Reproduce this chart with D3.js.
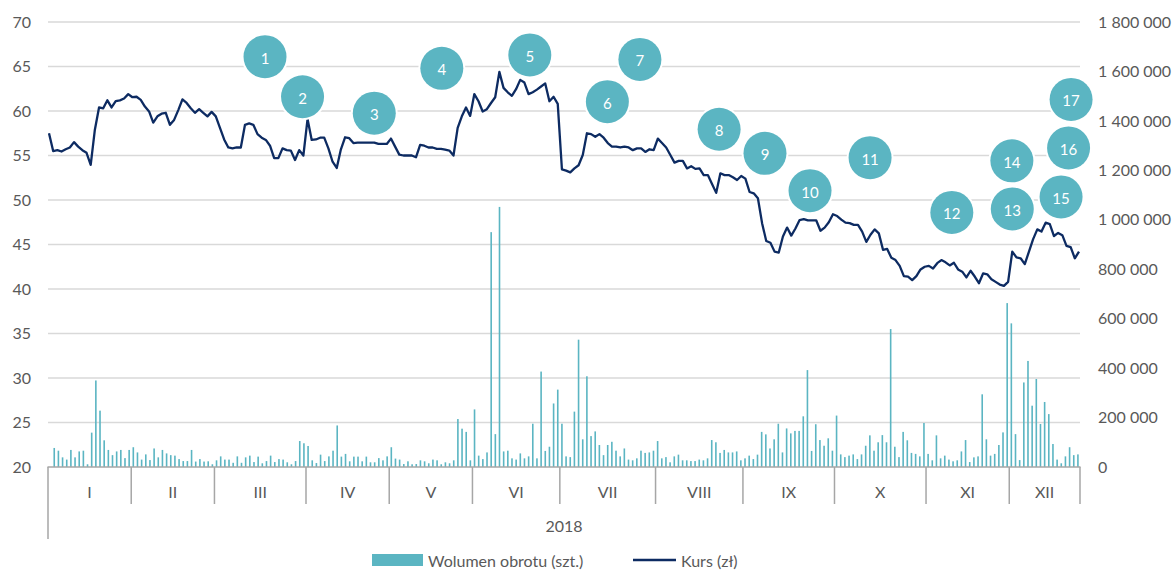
<!DOCTYPE html>
<html lang="pl">
<head>
<meta charset="utf-8">
<title>Kurs i wolumen obrotu 2018</title>
<script src="https://cdn.jsdelivr.net/npm/d3@7"></script>
<style>
  html, body { margin: 0; padding: 0; background: #ffffff; }
  svg { display: block; font-family: Lato, "Open Sans", sans-serif; }
</style>
</head>
<body>
<svg id="chart" width="1172" height="570"></svg>
<script>
// Months of 2018 and the number of trading sessions in each
const months = ["I", "II", "III", "IV", "V", "VI", "VII", "VIII", "IX", "X", "XI", "XII"];
const monthSessions = [20, 20, 22, 20, 20, 21, 23, 21, 22, 22, 20, 17];
const yearLabel = "2018";

// Closing price per session (zł)
const price = [
  57.5, 55.5, 55.6, 55.45, 55.7, 55.9, 56.5, 56.0, 55.6, 55.3,
  53.95, 57.9, 60.4, 60.3, 61.2, 60.4, 61.1, 61.2, 61.4, 61.9,
  61.55, 61.6, 61.25, 60.5, 59.95, 58.7, 59.4, 59.7, 59.8, 58.45,
  59.0, 60.1, 61.3, 60.9, 60.3, 59.8, 60.2, 59.8, 59.4, 59.9,
  59.4, 58.1, 56.8, 55.9, 55.8, 55.9, 55.9, 58.45, 58.6, 58.45,
  57.4, 57.0, 56.75, 56.1, 54.7, 54.7, 55.8, 55.6, 55.55, 54.5,
  55.6, 55.0, 59.1, 56.75, 56.8, 57.0, 57.0, 55.8, 54.3, 53.6,
  55.7, 57.05, 56.95, 56.4, 56.45, 56.45, 56.45, 56.45, 56.45, 56.3,
  56.3, 56.3, 56.9, 56.0, 55.1, 55.0, 55.0, 55.0, 54.8, 56.2,
  56.1, 55.9, 55.9, 55.75, 55.75, 55.65, 55.55, 55.0, 58.1, 59.4,
  60.4, 59.45, 61.9, 61.1, 59.95, 60.2, 60.9, 61.55, 64.4, 62.6,
  62.1, 61.7, 62.45, 63.5, 63.2, 61.9, 62.1, 62.4, 62.75, 63.1,
  61.1, 61.6, 60.8, 53.45, 53.3, 53.1, 53.55, 53.9, 55.05, 57.5,
  57.4, 57.1, 57.4, 57.0, 56.4, 56.0, 56.0, 55.9, 56.0, 55.9,
  55.6, 55.8, 55.8, 55.4, 55.7, 55.6, 56.9, 56.4, 55.9, 55.05,
  54.2, 54.4, 54.4, 53.55, 53.8, 53.5, 53.55, 52.8, 52.8, 51.8,
  50.8, 53.0, 52.8, 52.8, 52.55, 52.25, 52.7, 52.4, 50.9, 50.75,
  50.2, 47.4, 45.4, 45.2, 44.2, 44.1, 45.9, 46.9, 46.0, 46.8,
  47.75, 47.85, 47.7, 47.7, 47.7, 46.55, 46.9, 47.5, 48.4, 48.2,
  47.8, 47.45, 47.4, 47.2, 47.2, 46.45, 45.3, 46.1, 46.7, 46.25,
  44.4, 44.5, 43.5, 43.25, 42.6, 41.45, 41.4, 41.0, 41.45, 42.2,
  42.5, 42.6, 42.3, 42.9, 43.25, 43.0, 42.65, 42.95, 42.2, 41.95,
  41.3, 42.05, 41.4, 40.65, 41.75, 41.65, 41.1, 40.8, 40.5, 40.35,
  40.8, 44.2, 43.55, 43.45, 42.8, 44.2, 45.6, 46.7, 46.45, 47.45,
  47.3, 45.95, 46.3, 46.05, 44.85, 44.7, 43.45, 44.2
];

// Session turnover volume (shares)
const volume = [
  0, 77000, 66000, 39000, 30000, 69000, 39000, 63000, 66000, 11000,
  139000, 350000, 228000, 108000, 69000, 48000, 63000, 69000, 36000, 69000,
  80000, 59000, 30000, 51000, 28000, 75000, 39000, 69000, 55000, 48000,
  46000, 32000, 24000, 24000, 69000, 22000, 32000, 22000, 23000, 11000,
  27000, 43000, 30000, 30000, 17000, 43000, 17000, 39000, 46000, 20000,
  42000, 15000, 24000, 46000, 20000, 32000, 30000, 19000, 11000, 24000,
  105000, 96000, 85000, 27000, 16000, 50000, 24000, 43000, 66000, 168000,
  42000, 53000, 23000, 42000, 42000, 23000, 42000, 19000, 19000, 36000,
  27000, 43000, 80000, 34000, 30000, 12000, 23000, 11000, 12000, 27000,
  23000, 15000, 30000, 27000, 11000, 19000, 15000, 27000, 194000, 155000,
  142000, 27000, 233000, 46000, 32000, 59000, 950000, 133000, 1052000, 63000,
  66000, 35000, 30000, 55000, 35000, 43000, 175000, 35000, 386000, 65000,
  82000, 257000, 313000, 175000, 43000, 40000, 224000, 515000, 112000, 367000,
  125000, 144000, 89000, 48000, 89000, 102000, 66000, 43000, 75000, 30000,
  27000, 35000, 66000, 57000, 59000, 66000, 105000, 35000, 40000, 19000,
  43000, 50000, 27000, 27000, 24000, 24000, 30000, 27000, 35000, 109000,
  100000, 57000, 69000, 59000, 59000, 63000, 27000, 35000, 46000, 32000,
  50000, 142000, 132000, 75000, 112000, 175000, 59000, 156000, 136000, 146000,
  146000, 205000, 392000, 65000, 173000, 109000, 86000, 116000, 66000, 208000,
  51000, 40000, 46000, 51000, 32000, 51000, 86000, 128000, 66000, 100000,
  129000, 100000, 558000, 82000, 40000, 142000, 108000, 57000, 53000, 43000,
  178000, 53000, 27000, 128000, 35000, 46000, 30000, 23000, 27000, 63000,
  109000, 20000, 39000, 43000, 294000, 112000, 46000, 53000, 89000, 140000,
  663000, 581000, 133000, 28000, 342000, 429000, 248000, 356000, 174000, 263000,
  214000, 93000, 30000, 15000, 43000, 80000, 48000, 51000
];

// Axis ticks
const priceTicks = [20, 25, 30, 35, 40, 45, 50, 55, 60, 65, 70];
const volumeTicks = [0, 200000, 400000, 600000, 800000, 1000000, 1200000, 1400000, 1600000, 1800000];

// Numbered event markers: session (fractional) and price level
const markerNo    = [1, 2, 3, 4, 5, 6, 7, 8, 9, 10, 11, 12, 13, 14, 15, 16, 17];
const markerDay   = [51.8, 60.8, 78.0, 94.2, 115.3, 133.9, 141.7, 160.7, 171.7, 182.5, 196.9, 216.5, 231.0, 230.9, 242.7, 244.5, 245.1];
const markerPrice = [66.1, 61.6, 59.75, 64.8, 66.3, 61.05, 65.8, 57.95, 55.25, 51.05, 54.75, 48.6, 49.0, 54.4, 50.35, 55.85, 61.3];

const legendLabels = ["Wolumen obrotu (szt.)", "Kurs (zł)"];

// ---- styling ----
const C = {
  grid: "#d9d9d9",
  axis: "#a6a6a6",
  text: "#595959",
  bar: "#5bb5c2",
  line: "#0d2b62",
  marker: "#5bb5c2"
};

const svg = d3.select("#chart");
const plot = { left: 48, right: 1080, top: 22, bottom: 467 };
const n = price.length;

const yPrice = d3.scaleLinear().domain([20, 70]).range([plot.bottom, plot.top]);
const yVol = d3.scaleLinear().domain([0, 1800000]).range([plot.bottom, plot.top]);
const xBand = d3.scaleBand().domain(d3.range(n)).range([plot.left, plot.right]);
const xDay = d3.scaleLinear().domain([0, n - 1]).range([plot.left + 1, plot.right - 1]);

svg.append("rect").attr("width", 1172).attr("height", 570).attr("fill", "#fff");

// horizontal gridlines
svg.append("g")
  .selectAll("line")
  .data(priceTicks.filter(t => t > 20))
  .join("line")
  .attr("x1", plot.left).attr("x2", plot.right)
  .attr("y1", d => yPrice(d)).attr("y2", d => yPrice(d))
  .attr("stroke", C.grid).attr("stroke-width", 1.3);

// left axis (price)
const fmtVol = d3.formatLocale({ decimal: ",", thousands: "\u00a0", grouping: [3], currency: ["", ""] }).format(",d");
const leftAxis = svg.append("g")
  .attr("transform", "translate(31,0)")
  .call(d3.axisLeft(yPrice).tickValues(priceTicks).tickSize(0).tickPadding(0));
leftAxis.select(".domain").remove();
leftAxis.selectAll("text")
  .attr("fill", C.text).style("font-size", "16px").style("font-family", "Lato, sans-serif");

// right axis (volume)
const rightAxis = svg.append("g")
  .attr("transform", "translate(1098,0)")
  .call(d3.axisRight(yVol).tickValues(volumeTicks).tickFormat(fmtVol).tickSize(0).tickPadding(0));
rightAxis.select(".domain").remove();
rightAxis.selectAll("text")
  .attr("fill", C.text).style("font-size", "16px").style("font-family", "Lato, sans-serif");

// volume bars
svg.append("g")
  .selectAll("rect")
  .data(volume)
  .join("rect")
  .attr("x", (d, i) => xBand(i) + xBand.bandwidth() / 2 - 0.8)
  .attr("width", 1.6)
  .attr("y", d => yVol(d))
  .attr("height", d => yVol(0) - yVol(d))
  .attr("fill", C.bar);

// category axis with month groups
const starts = [];
let acc = 0;
monthSessions.forEach(c => { starts.push(acc); acc += c; });
const edges = starts.map(s => xBand(s)).concat([plot.right]);

const cat = svg.append("g");
cat.append("line")
  .attr("x1", plot.left - 0.5).attr("x2", plot.right + 0.5)
  .attr("y1", plot.bottom).attr("y2", plot.bottom)
  .attr("stroke", C.axis).attr("stroke-width", 1.5);
cat.selectAll("line.sep")
  .data(edges)
  .join("line")
  .attr("class", "sep")
  .attr("x1", d => d).attr("x2", d => d)
  .attr("y1", plot.bottom)
  .attr("y2", (d, i) => i === 0 ? 539 : 504)
  .attr("stroke", C.axis).attr("stroke-width", 1.5);
cat.selectAll("text.month")
  .data(months)
  .join("text")
  .attr("class", "month")
  .attr("x", (d, i) => (edges[i] + edges[i + 1]) / 2)
  .attr("y", 491)
  .attr("text-anchor", "middle")
  .attr("dominant-baseline", "central")
  .attr("fill", C.text)
  .style("font-size", "16px")
  .text(d => d);
cat.append("text")
  .attr("x", (plot.left + plot.right) / 2)
  .attr("y", 525)
  .attr("text-anchor", "middle")
  .attr("dominant-baseline", "central")
  .attr("fill", C.text)
  .style("font-size", "16px")
  .text(yearLabel);

// price line
svg.append("path")
  .datum(price)
  .attr("fill", "none")
  .attr("stroke", C.line)
  .attr("stroke-width", 2.3)
  .attr("stroke-linejoin", "round")
  .attr("d", d3.line().x((d, i) => xDay(i)).y(d => yPrice(d)));

// numbered markers
const markers = svg.append("g")
  .selectAll("g")
  .data(markerNo.map((no, i) => ({ no, day: markerDay[i], p: markerPrice[i] })))
  .join("g")
  .attr("transform", d => `translate(${xDay(d.day)},${yPrice(d.p)})`);
markers.append("circle").attr("r", 23.5).attr("fill", "#fff");
markers.append("circle").attr("r", 21.5).attr("fill", C.marker);
markers.append("text")
  .attr("text-anchor", "middle")
  .attr("dominant-baseline", "central")
  .attr("dy", 1)
  .attr("fill", "#fff")
  .style("font-size", "15px")
  .text(d => d.no);

// legend
const lg = svg.append("g");
lg.append("rect").attr("x", 372).attr("y", 554).attr("width", 51).attr("height", 12).attr("fill", C.bar);
lg.append("text").attr("x", 428).attr("y", 560).attr("dominant-baseline", "central")
  .attr("fill", C.text).style("font-size", "16px").text(legendLabels[0]);
lg.append("line").attr("x1", 633).attr("x2", 676).attr("y1", 560).attr("y2", 560)
  .attr("stroke", C.line).attr("stroke-width", 2.3);
lg.append("text").attr("x", 681).attr("y", 560).attr("dominant-baseline", "central")
  .attr("fill", C.text).style("font-size", "16px").text(legendLabels[1]);
</script>
</body>
</html>
